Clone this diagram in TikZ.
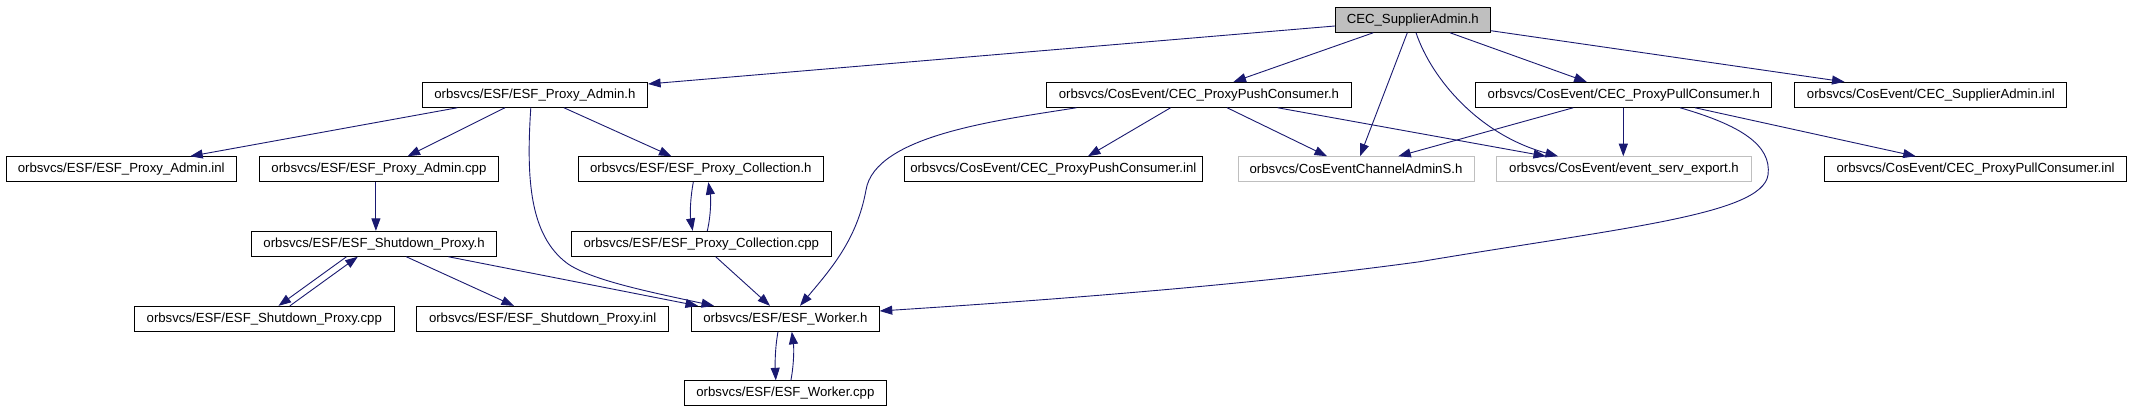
\documentclass[tikz,border=0pt]{standalone}
\usepackage{fontspec}
\setmainfont{Liberation Sans}
\usetikzlibrary{arrows.meta}
\definecolor{edgecol}{HTML}{191970}
\definecolor{graycol}{HTML}{BFBFBF}
\begin{document}
\begin{tikzpicture}[x=1pt,y=-1pt,
  box/.style={draw=black, line width=0.9pt, rectangle, minimum height=25pt, inner sep=0pt, font=\fontsize{13.2pt}{15pt}\selectfont, text=black},
  grbox/.style={box, draw=graycol},
  rootbox/.style={box, fill=graycol},
  dep/.style={draw=edgecol, line width=0.9pt, -{Triangle[length=12.5pt,width=9pt]}},
]
\fill[white] (0,0) rectangle (2131,411);
\useasboundingbox (0,0) rectangle (2131,411);

% nodes
\node[rootbox, minimum width=155pt] (root) at (1412.8,19.8) {CEC\_SupplierAdmin.h};
\node[box, minimum width=225.5pt] (PAh) at (534.9,94.8) {orbsvcs/ESF/ESF\_Proxy\_Admin.h};
\node[box, minimum width=304.5pt] (PushCh) at (1198.9,94.8) {orbsvcs/CosEvent/CEC\_ProxyPushConsumer.h};
\node[box, minimum width=296pt] (PullCh) at (1623.8,94.8) {orbsvcs/CosEvent/CEC\_ProxyPullConsumer.h};
\node[box, minimum width=272pt] (SAinl) at (1930.9,94.8) {orbsvcs/CosEvent/CEC\_SupplierAdmin.inl};
\node[box, minimum width=229.6pt] (PAinl) at (121.2,169.2) {orbsvcs/ESF/ESF\_Proxy\_Admin.inl};
\node[box, minimum width=239.6pt] (PAcpp) at (378.9,169.2) {orbsvcs/ESF/ESF\_Proxy\_Admin.cpp};
\node[box, minimum width=245pt] (Collh) at (700.8,169.2) {orbsvcs/ESF/ESF\_Proxy\_Collection.h};
\node[box, minimum width=298pt] (PushCinl) at (1053.3,169.2) {orbsvcs/CosEvent/CEC\_ProxyPushConsumer.inl};
\node[grbox, minimum width=236pt] (CosEv) at (1356,169.2) {orbsvcs/CosEventChannelAdminS.h};
\node[grbox, minimum width=255pt] (evt) at (1624,169.2) {orbsvcs/CosEvent/event\_serv\_export.h};
\node[box, minimum width=302.5pt] (PullCinl) at (1975.6,169.2) {orbsvcs/CosEvent/CEC\_ProxyPullConsumer.inl};
\node[box, minimum width=245.4pt] (SPh) at (374.1,243.8) {orbsvcs/ESF/ESF\_Shutdown\_Proxy.h};
\node[box, minimum width=260pt] (Collcpp) at (701.3,243.8) {orbsvcs/ESF/ESF\_Proxy\_Collection.cpp};
\node[box, minimum width=259.5pt] (SPcpp) at (264.3,318.8) {orbsvcs/ESF/ESF\_Shutdown\_Proxy.cpp};
\node[box, minimum width=251.8pt] (SPinl) at (542.6,318.8) {orbsvcs/ESF/ESF\_Shutdown\_Proxy.inl};
\node[box, minimum width=188pt] (Workerh) at (785.3,318.8) {orbsvcs/ESF/ESF\_Worker.h};
\node[box, minimum width=201.2pt] (Workercpp) at (785.4,393.3) {orbsvcs/ESF/ESF\_Worker.cpp};

% edges from root
\draw[dep] (root.west |- 0,26) -- (PAh.east |- 0,84);
\draw[dep] (root.south -| 1373.3,0) -- (PushCh.north -| 1233.5,0);
\draw[dep] (root.south -| 1407.3,0) -- (CosEv.north -| 1360,0);
\draw[dep] (root.south -| 1416,0) .. controls (1432,80) and (1480,135) .. (evt.north -| 1558,0);
\draw[dep] (root.south -| 1450,0) -- (PullCh.north -| 1586.7,0);
\draw[dep] (root.east |- 0,30.7) -- (SAinl.north -| 1844.5,0);

% ESF_Proxy_Admin.h
\draw[dep] (PAh.south -| 457.4,0) -- (PAinl.north -| 190.2,0);
\draw[dep] (PAh.south -| 505,0) -- (PAcpp.north -| 407.6,0);
\draw[dep] (PAh.south -| 563.9,0) -- (Collh.north -| 671.5,0);
\draw[dep] (PAh.south -| 530.8,0) .. controls (526,180) and (530,235) .. (566.7,263) .. controls (590,280) and (650,292) .. (Workerh.north -| 714,0);
\draw[dep] (PAcpp.south -| 375.9,0) -- (SPh.north -| 375.9,0);

% collection
\draw[dep] (Collh.south -| 693.3,0) .. controls (690,200) and (690,215) .. (Collcpp.north -| 692.7,0);
\draw[dep] (Collcpp.north -| 707.3,0) .. controls (711,215) and (711,198) .. (Collh.south -| 708.3,0);
\draw[dep] (Collcpp.south -| 715.7,0) -- (Workerh.north -| 770,0);

% shutdown proxy
\draw[dep] (SPh.south -| 346.5,0) -- (SPcpp.north -| 278.5,0);
\draw[dep] (SPcpp.north -| 289.9,0) -- (SPh.south -| 357.8,0);
\draw[dep] (SPh.south -| 406.3,0) -- (SPinl.north -| 514,0);
\draw[dep] (SPh.south -| 448.4,0) -- (Workerh.north -| 698,0);

% worker
\draw[dep] (Workerh.south -| 778,0) .. controls (775,348) and (775,364) .. (Workercpp.north -| 775.8,0);
\draw[dep] (Workercpp.north -| 790.9,0) .. controls (794,364) and (794,348) .. (Workerh.south -| 791.8,0);

% push consumer
\draw[dep] (PushCh.south -| 1076.5,0) .. controls (1000,120) and (875,135) .. (866,190) .. controls (857,240) and (830,270) .. (Workerh.north -| 800,0);
\draw[dep] (PushCh.south -| 1170.6,0) -- (PushCinl.north -| 1088,0);
\draw[dep] (PushCh.south -| 1227.1,0) -- (CosEv.north -| 1327,0);
\draw[dep] (PushCh.south -| 1277.6,0) -- (evt.north -| 1546,0);

% pull consumer
\draw[dep] (PullCh.south -| 1573.3,0) -- (CosEv.north -| 1398.3,0);
\draw[dep] (PullCh.south -| 1623.3,0) -- (evt.north -| 1623.3,0);
\draw[dep] (PullCh.south -| 1680,0) .. controls (1740,125) and (1772,145) .. (1768,175) .. controls (1762,215) and (1620,228) .. (1420,261.7) .. controls (1250,285) and (1050,300) .. (Workerh.east |- 0,311);
\draw[dep] (PullCh.south -| 1695,0) -- (PullCinl.north -| 1915.7,0);
\end{tikzpicture}
\end{document}
